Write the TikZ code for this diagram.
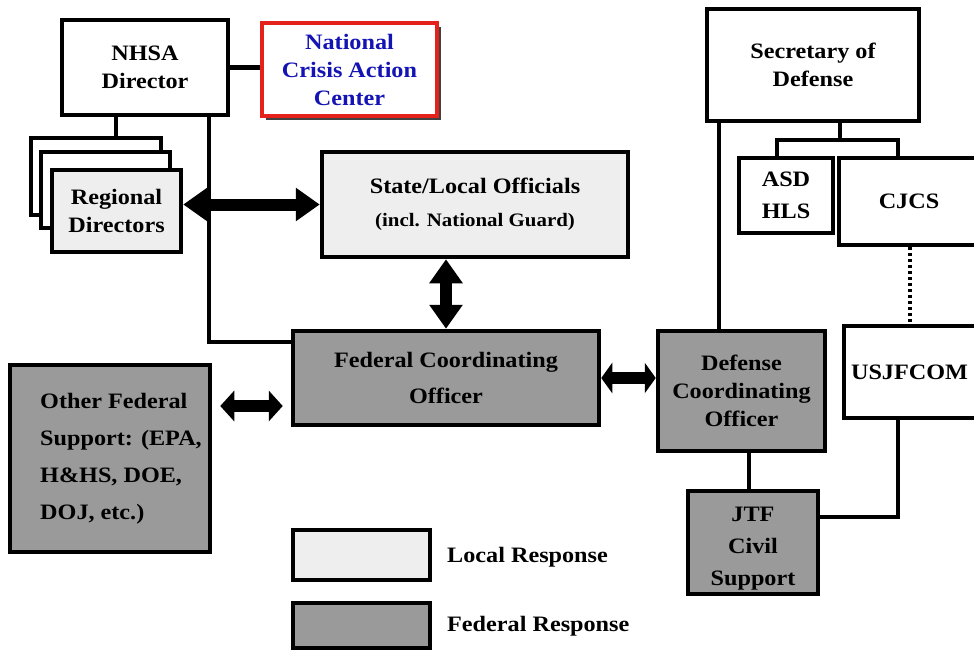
\documentclass[tikz,border=0pt]{standalone}
\usepackage{fontspec}
\setmainfont{Liberation Serif}[FakeStretch=1.1]
\usetikzlibrary{arrows.meta,shadows}
\definecolor{lightg}{HTML}{EEEEEE}
\definecolor{darkg}{HTML}{9A9A9A}
\definecolor{redb}{HTML}{E4211B}
\definecolor{blueT}{HTML}{1414B4}
\begin{document}
\begin{tikzpicture}[x=1pt,y=-1pt,
  box/.style={draw, line width=4.5pt, inner sep=0pt, align=center,
    font=\fontsize{22}{28}\selectfont\bfseries},
  txt/.style={inner sep=0pt, align=left, font=\fontsize{22}{28}\selectfont\bfseries},
  conn/.style={line width=4.5pt},
  dotconn/.style={line width=4.5pt, dash pattern=on 3pt off 3pt},
  dbl/.style={line width=12pt, {Triangle[length=24pt,width=32pt]}-{Triangle[length=24pt,width=32pt]}},
  dblsmall/.style={line width=12pt, {Triangle[length=14pt,width=30pt]}-{Triangle[length=14pt,width=30pt]}},
  dblshort/.style={line width=12pt, {Triangle[length=11pt,width=30pt]}-{Triangle[length=11pt,width=30pt]}}
]
\useasboundingbox (0,0) rectangle (974,650);
\clip (0,0) rectangle (974,650);
\fill[white] (0,0) rectangle (974,650);

% helper coordinates
\coordinate (xa) at (116,0);
\coordinate (xb) at (209,0);
\coordinate (xc) at (719,0);
\coordinate (xd) at (840,0);
\coordinate (xe) at (777,0);
\coordinate (xf) at (898,0);
\coordinate (xg) at (910,0);
\coordinate (xh) at (749,0);
\coordinate (yb) at (0,342);
\coordinate (ybar) at (0,140);
\coordinate (yj) at (0,517);

% nodes
\node[box, minimum width=166pt, minimum height=95pt] (nhsa) at (145,67.5) {NHSA\\Director};
\node[box, draw=redb, minimum width=175pt, minimum height=93pt, text=blueT, fill=white,
  drop shadow={shadow xshift=4pt, shadow yshift=-4pt, fill=black!75, opacity=1}] (ncac) at (349.5,69.5)
  {National\\Crisis Action\\Center};
\node[box, fill=white, minimum width=130pt, minimum height=77pt] (rd1) at (96,176.5) {};
\node[box, fill=white, minimum width=129pt, minimum height=76pt] (rd2) at (105.5,190) {};
\node[box, fill=lightg, minimum width=129pt, minimum height=82pt] (rd3) at (116.5,211) {Regional\\Directors};
\node[box, fill=lightg, minimum width=306pt, minimum height=105pt] (state) at (475,204.5)
  {State/Local Officials\\[5pt]{\fontsize{19}{22}\selectfont (incl. National Guard)}};
\node[box, fill=darkg, minimum width=306pt, minimum height=94pt, font=\fontsize{22}{36}\selectfont\bfseries] (fco) at (446,378)
  {Federal Coordinating\\Officer};
\node[box, fill=darkg, minimum width=200pt, minimum height=187pt] (other) at (110,458.5) {};
\node[txt, anchor=west, font=\fontsize{22}{37}\selectfont\bfseries] (otherT) at (40,458.5)
  {Other Federal\\Support: (EPA,\\H\&HS, DOE,\\DOJ, etc.)};
\node[box, fill=darkg, minimum width=167pt, minimum height=120pt] (dco) at (741.5,391)
  {Defense\\Coordinating\\Officer};
\node[box, fill=white, minimum width=212pt, minimum height=112pt] (secdef) at (813,65) {Secretary of\\Defense};
\node[box, fill=white, minimum width=94pt, minimum height=75pt, font=\fontsize{22}{32}\selectfont\bfseries] (asd) at (786,195.5) {ASD\\HLS};
\node[box, fill=white, minimum width=146pt, minimum height=87pt] (cjcs) at (912,201.5) {CJCS\hspace{6pt}};
\node[box, fill=white, minimum width=141pt, minimum height=92pt] (usj) at (914.5,372) {USJFCOM\hspace{10pt}};
\node[box, fill=darkg, minimum width=130pt, minimum height=103pt, font=\fontsize{22}{32}\selectfont\bfseries] (jtf) at (753,542.5)
  {\\[-6pt]JTF\\Civil\\Support};
\node[box, fill=lightg, minimum width=137pt, minimum height=50pt] (leg1) at (361.5,555) {};
\node[txt, anchor=west] (leg1t) at (447,557) {Local Response};
\node[box, fill=darkg, minimum width=137pt, minimum height=45pt] (leg2) at (361.5,625.5) {};
\node[txt, anchor=west] (leg2t) at (447,626) {Federal Response};

% connectors
\draw[conn] (nhsa.east) -- (nhsa.east -| ncac.west);
\draw[conn] (nhsa.south -| xa) -- (rd1.north -| xa);
\draw[conn] (nhsa.south -| xb) |- (fco.west |- yb);
\draw[conn] (secdef.south -| xc) -- (dco.north -| xc);
\draw[conn] (secdef.south -| xd) -- (xd |- ybar);
\draw[conn] (asd.north -| xe) |- (xf |- ybar) -- (cjcs.north -| xf);
\draw[dotconn] (cjcs.south -| xg) -- (usj.north -| xg);
\draw[conn] (dco.south -| xh) -- (jtf.north -| xh);
\draw[conn] (usj.south -| xf) |- (jtf.east |- yj);

% double arrows
\draw[dbl] (state.west -| rd3.east) -- (state.west);
\draw[dbl] (state.south -| fco.north) -- (fco.north);
\draw[dblshort] (fco.east) -- (fco.east -| dco.west);
\coordinate (oa) at ([yshift=-28pt]fco.west);
\draw[dblsmall, shorten <=8pt, shorten >=8pt] (oa -| other.east) -- (oa);
\end{tikzpicture}
\end{document}
